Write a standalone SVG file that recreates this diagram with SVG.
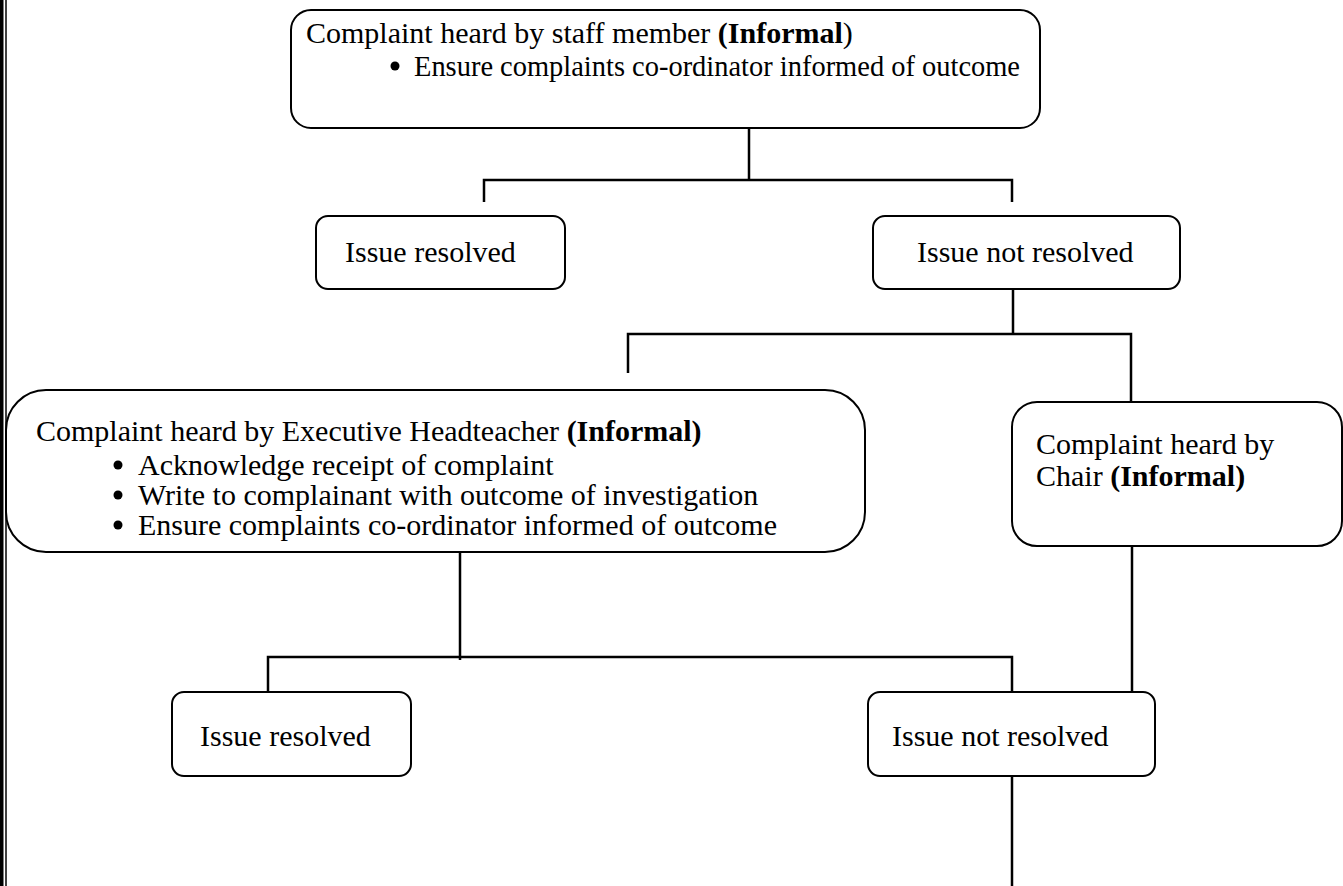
<svg xmlns="http://www.w3.org/2000/svg" width="1343" height="886" viewBox="0 0 1343 886">
<style>
.box{fill:#fff;stroke:#000;stroke-width:2}
.ln{stroke:#000;stroke-width:2.5;fill:none}
text{font-family:"Liberation Serif","Times New Roman",serif;font-size:30px;fill:#000}
.b{font-weight:bold}
</style>
<rect width="1343" height="886" fill="#fff"/>
<rect x="0" y="0" width="3.5" height="886" fill="#000"/>
<line x1="6" y1="0" x2="6" y2="886" stroke="#000" stroke-width="1.5"/>
<g id="connectors">
<path class="ln" d="M749 128V180M484 202V180H1012V202"/>
<path class="ln" d="M1013 289V334M628 373V334H1131V404"/>
<path class="ln" d="M460 552V660M268 692V657H1012V692"/>
<path class="ln" d="M1132 540V710"/>
<path class="ln" d="M1012 774V886"/>
</g>
<g id="n1">
<rect class="box" x="291" y="10" width="749" height="118" rx="20"/>
<text x="306" y="43">Complaint heard by staff member <tspan class="b">(Informal</tspan>)</text>
<circle cx="395" cy="66" r="4.5"/>
<text x="414" y="76" textLength="606" lengthAdjust="spacingAndGlyphs">Ensure complaints co-ordinator informed of outcome</text>
</g>
<g id="n2">
<rect class="box" x="316" y="216" width="249" height="73" rx="12"/>
<text x="345" y="262">Issue resolved</text>
</g>
<g id="n3">
<rect class="box" x="873" y="216" width="307" height="73" rx="12"/>
<text x="917" y="262">Issue not resolved</text>
</g>
<g id="n4">
<rect class="box" x="6" y="390" width="859" height="162" rx="40"/>
<text x="36" y="441">Complaint heard by Executive Headteacher <tspan class="b">(Informal)</tspan></text>
<circle cx="118" cy="465" r="4.5"/><text x="138" y="475">Acknowledge receipt of complaint</text>
<circle cx="118" cy="495" r="4.5"/><text x="138" y="505">Write to complainant with outcome of investigation</text>
<circle cx="118" cy="525" r="4.5"/><text x="138" y="535">Ensure complaints co-ordinator informed of outcome</text>
</g>
<g id="n5">
<rect class="box" x="1012" y="402" width="330" height="144" rx="25"/>
<text x="1036" y="454">Complaint heard by</text>
<text x="1036" y="486">Chair <tspan class="b">(Informal)</tspan></text>
</g>
<g id="n6">
<rect class="box" x="172" y="692" width="239" height="84" rx="12"/>
<text x="200" y="746">Issue resolved</text>
</g>
<g id="n7">
<rect class="box" x="868" y="692" width="287" height="84" rx="12"/>
<text x="892" y="746">Issue not resolved</text>
</g>
</svg>
